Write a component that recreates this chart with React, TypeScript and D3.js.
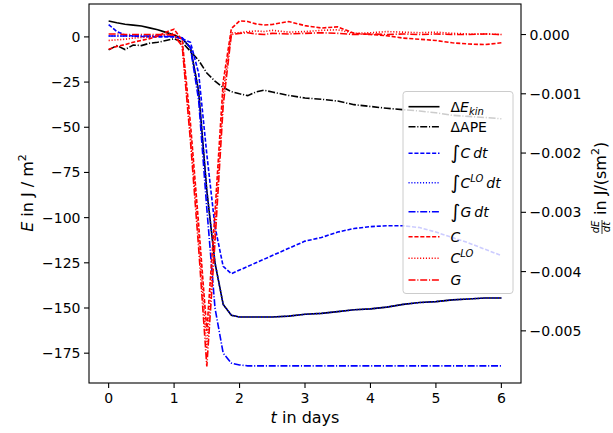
import React from "react";
import * as d3 from "d3";

// time in days
const tDays = [0, 0.125, 0.25, 0.375, 0.5, 0.625, 0.75, 0.875, 1, 1.125, 1.25, 1.375, 1.5, 1.625, 1.75, 1.875, 2, 2.125, 2.25, 2.375, 2.5, 2.75, 3, 3.25, 3.5, 3.75, 4, 4.25, 4.5, 4.75, 5, 5.25, 5.5, 5.75, 6];

// left axis series, E in J/m^2
const dEkin = [8.8, 7.8, 7, 6.5, 6, 5, 4, 2.5, 1, -1, -6, -30, -85, -125, -148, -154, -155, -155, -155, -155, -155, -154.5, -153.5, -153, -152, -151, -150.5, -149.5, -148, -147, -146.5, -145.5, -145, -144.5, -144.5];
const dAPE = [-7.2, -4.8, -7, -4.5, -4.8, -3.5, -3, -2, -1, -3, -8, -13, -20, -24.5, -28, -30.3, -31.5, -32.5, -30.5, -29.5, -30.5, -32.4, -33.8, -34.5, -35.5, -37.5, -38.5, -39.5, -40.3, -41, -42, -43.4, -44, -44.6, -45.3];
const intC = [6.8, 3, 1, 0.5, 0.2, 0, 0, 0, 0, -1, -3, -20, -65, -105, -127, -131, -129, -127, -125, -123, -121, -117, -113, -111, -108, -106, -105, -104.5, -104.5, -105.5, -108, -111, -114, -117.5, -121];
const intCLO = [0.5, 0.5, 0.5, 0.5, 0.5, 0.5, 0.5, 0.4, 0.2, -1, -6, -30, -85, -125, -148, -154, -155, -155, -155, -155, -155, -154.5, -153.5, -153, -152, -151, -150.5, -149.5, -148, -147, -146.5, -145.5, -145, -144.5, -144.5];
const intG = [0.5, 0.5, 0.5, 0.5, 0.5, 0.5, 0.5, 0.4, 0.3, -0.5, -6, -35, -95, -150, -175, -180.5, -181.5, -182, -182, -182, -182, -182, -182, -182, -182, -182, -182, -182, -182, -182, -182, -182, -182, -182, -182];

// right axis series, dE/dt in J/(s m^2)
const rateC = [-0.00025, -0.0002, -0.00017, -0.00013, -0.0001, -0.00007, -0.00003, 0.00004, 0.00009, -0.0001, -0.0015, -0.0032, -0.005, -0.003, -0.0008, 0.0001, 0.00023, 0.00022, 0.00018, 0.00016, 0.00017, 0.00022, 0.00015, 0.00011, 0.00013, 0.00002, 0, -0.00002, -0.00006, -0.00008, -0.0001, -0.00014, -0.00016, -0.00017, -0.00014];
const rateCLO = [-0.0001, -0.00009, -0.00008, -0.00006, -0.00005, -0.00004, -0.00002, 0, 0.00002, -0.0002, -0.0017, -0.0034, -0.0053, -0.0033, -0.001, 0.00003, 0.00003, 0.00005, 0.00006, 0.00005, 0.00007, 0.00004, 0.00005, 0.00007, 0.00008, 0.00002, 0.00003, 0.00005, 0.00004, 0.00003, 0.00004, 0.00002, 0.00001, 0.00001, 0];
const rateG = [0.00001, 0.00001, 0, 0, 0, 0, 0, 0, -0.00001, -0.0002, -0.0018, -0.0036, -0.0056, -0.0035, -0.0012, 0, 0.00002, 0.00003, 0.00001, 0, 0.00002, 0.00001, 0.00002, 0.00003, 0.00002, 0, 0.00001, 0, 0.00001, 0, 0.00001, 0, 0, 0.00001, 0];

const xTicks = [0, 1, 2, 3, 4, 5, 6];
const yLeftTicks = [0, -25, -50, -75, -100, -125, -150, -175];
const yRightTicks = [0, -0.001, -0.002, -0.003, -0.004, -0.005];

const FONT = "DejaVu Sans";
const DASHED = "4.1 1.8";
const DOTTED = "1.1 1.8";
const DASHDOT = "7 1.8 1.1 1.8";

const left = 89, right = 521, top = 4, bottom = 383;

export default function App() {
  const x = d3.scaleLinear().domain([-0.3, 6.3]).range([left, right]);
  const yL = d3.scaleLinear().domain([-191.5, 18.2]).range([bottom, top]);
  const yR = d3.scaleLinear().domain([-0.00588, 0.000515]).range([bottom, top]);

  const lineL = (vals: number[]) =>
    d3.line<number>().x((_, i) => x(tDays[i])).y((v) => yL(v))(vals) || "";
  const lineR = (vals: number[]) =>
    d3.line<number>().x((_, i) => x(tDays[i])).y((v) => yR(v))(vals) || "";

  const leftSeries = [
    { vals: dEkin, color: "#000000", dash: "none" },
    { vals: dAPE, color: "#000000", dash: DASHDOT },
    { vals: intC, color: "#0000ff", dash: DASHED },
    { vals: intCLO, color: "#0000ff", dash: DOTTED },
    { vals: intG, color: "#0000ff", dash: DASHDOT },
  ];
  const rightSeries = [
    { vals: rateC, color: "#ff0000", dash: DASHED },
    { vals: rateCLO, color: "#ff0000", dash: DOTTED },
    { vals: rateG, color: "#ff0000", dash: DASHDOT },
  ];

  const fmtR = (v: number) => {
    const s = Math.abs(v).toFixed(3);
    return v < -1e-12 ? "\u2212" + s : s;
  };
  const fmtL = (v: number) => (v < 0 ? "\u2212" + Math.abs(v) : String(v));

  const legendItems: { color: string; dash: string; y: number; label: React.ReactNode }[] = [
    {
      color: "#000000", dash: "none", y: 106.7,
      label: (<>{"\u0394"}<tspan fontStyle="italic">E</tspan><tspan fontStyle="italic" fontSize={10} dy={3}>kin</tspan></>),
    },
    { color: "#000000", dash: DASHDOT, y: 126.7, label: <>{"\u0394APE"}</> },
    {
      color: "#0000ff", dash: DASHED, y: 153.3,
      label: (<><tspan fontSize={19} dy={1}>{"\u222B"}</tspan><tspan fontStyle="italic" dy={-1}>C</tspan><tspan fontStyle="italic" dx={3}>dt</tspan></>),
    },
    {
      color: "#0000ff", dash: DOTTED, y: 182.7,
      label: (<><tspan fontSize={19} dy={1}>{"\u222B"}</tspan><tspan fontStyle="italic" dy={-1}>C</tspan><tspan fontStyle="italic" fontSize={10} dy={-6}>LO</tspan><tspan fontStyle="italic" dx={3} dy={6}>dt</tspan></>),
    },
    {
      color: "#0000ff", dash: DASHDOT, y: 211.7,
      label: (<><tspan fontSize={19} dy={1}>{"\u222B"}</tspan><tspan fontStyle="italic" dy={-1}>G</tspan><tspan fontStyle="italic" dx={3}>dt</tspan></>),
    },
    { color: "#ff0000", dash: DASHED, y: 236.7, label: <tspan fontStyle="italic">C</tspan> },
    {
      color: "#ff0000", dash: DOTTED, y: 258.3,
      label: (<><tspan fontStyle="italic">C</tspan><tspan fontStyle="italic" fontSize={10} dy={-6}>LO</tspan></>),
    },
    { color: "#ff0000", dash: DASHDOT, y: 280, label: <tspan fontStyle="italic">G</tspan> },
  ];

  return (
    <svg width={613} height={433} style={{ position: "absolute", left: 0, top: 0, background: "#fff" }} fontFamily={FONT}>
      <rect x={0} y={0} width={613} height={433} fill="#fff" />
      <defs>
        <clipPath id="plotclip">
          <rect x={left} y={top} width={right - left} height={bottom - top} />
        </clipPath>
      </defs>
      <g clipPath="url(#plotclip)" fill="none" strokeWidth={1.6}>
        {leftSeries.map((s, i) => (
          <path key={"l" + i} d={lineL(s.vals)} stroke={s.color} strokeDasharray={s.dash} />
        ))}
        {rightSeries.map((s, i) => (
          <path key={"r" + i} d={lineR(s.vals)} stroke={s.color} strokeDasharray={s.dash} />
        ))}
      </g>

      {/* frame */}
      <rect x={left} y={top} width={right - left} height={bottom - top} fill="none" stroke="#000" strokeWidth={1.1} />

      {/* x axis ticks */}
      {xTicks.map((t) => (
        <g key={"x" + t}>
          <line x1={x(t)} x2={x(t)} y1={bottom} y2={bottom + 5} stroke="#000" strokeWidth={1.1} />
          <text x={x(t)} y={403} textAnchor="middle" fontSize={14}>{t}</text>
        </g>
      ))}
      {/* left ticks */}
      {yLeftTicks.map((v) => (
        <g key={"yl" + v}>
          <line x1={left - 5} x2={left} y1={yL(v)} y2={yL(v)} stroke="#000" strokeWidth={1.1} />
          <text x={left - 8.5} y={yL(v) + 5} textAnchor="end" fontSize={14}>{fmtL(v)}</text>
        </g>
      ))}
      {/* right ticks */}
      {yRightTicks.map((v) => (
        <g key={"yr" + v}>
          <line x1={right} x2={right + 5} y1={yR(v)} y2={yR(v)} stroke="#000" strokeWidth={1.1} />
          <text x={right + 8.5} y={yR(v) + 5} textAnchor="start" fontSize={14}>{fmtR(v)}</text>
        </g>
      ))}

      {/* axis labels */}
      <text x={305} y={423} textAnchor="middle" fontSize={16}>
        <tspan fontStyle="italic">t</tspan> in days
      </text>
      <g transform="translate(33,193) rotate(-90)">
        <text x={0} y={0} textAnchor="middle" fontSize={16}>
          <tspan fontStyle="italic">E</tspan> in J / m<tspan fontSize={11} dy={-7}>2</tspan>
        </text>
      </g>
      <g transform="translate(606,193) rotate(-90)">
        <text x={-34} y={-7} textAnchor="middle" fontSize={10}><tspan fontStyle="italic">dE</tspan></text>
        <line x1={-41} x2={-27} y1={-4} y2={-4} stroke="#000" strokeWidth={0.8} />
        <text x={-34} y={4} textAnchor="middle" fontSize={10}><tspan fontStyle="italic">dt</tspan></text>
        <text x={-22} y={0} textAnchor="start" fontSize={16}>
          in J/(sm<tspan fontSize={11} dy={-7}>2</tspan><tspan dy={7}>)</tspan>
        </text>
      </g>

      {/* legend */}
      <rect x={403} y={91.5} width={110} height={202} rx={3} ry={3} fill="#fff" fillOpacity={0.8} stroke="#cccccc" strokeWidth={1} />
      {legendItems.map((it, i) => (
        <g key={"lg" + i}>
          <line x1={408.5} x2={439.5} y1={it.y} y2={it.y} stroke={it.color} strokeWidth={1.6} strokeDasharray={it.dash} />
          <text x={450.5} y={it.y + 5} fontSize={14}>{it.label}</text>
        </g>
      ))}
    </svg>
  );
}
